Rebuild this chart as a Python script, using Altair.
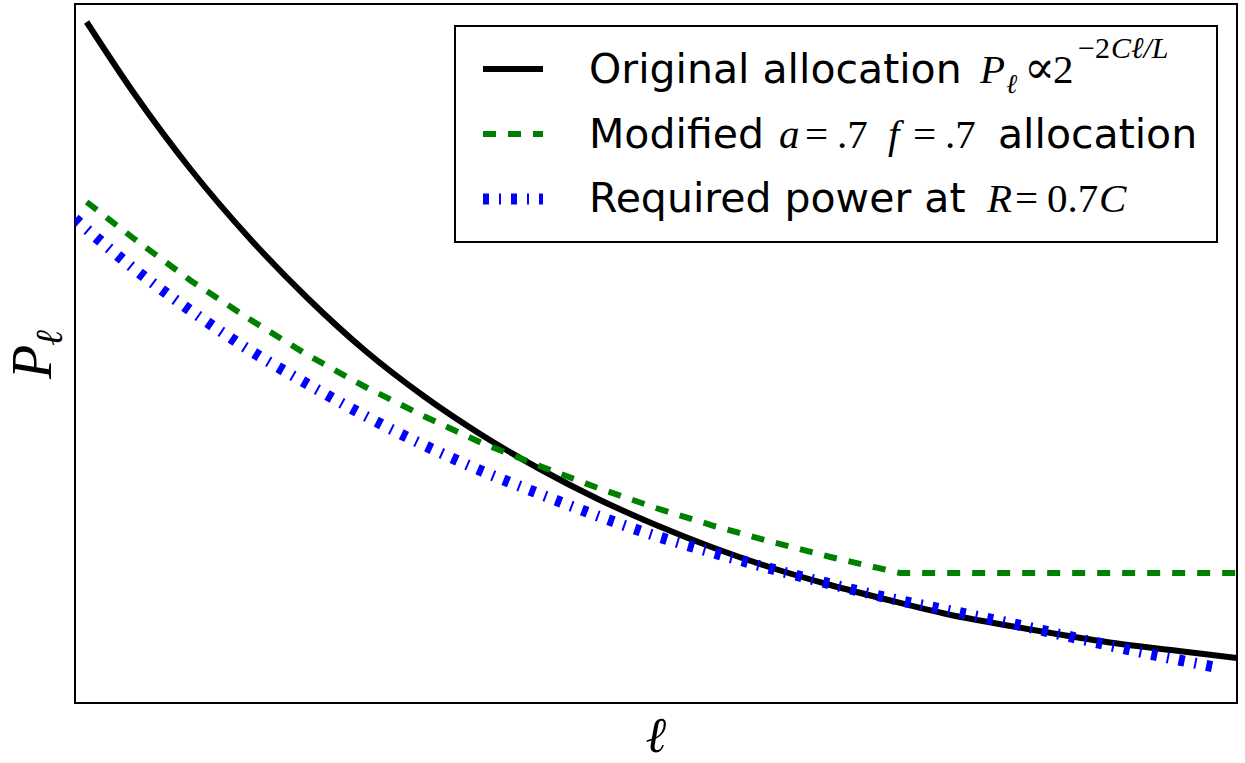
import altair as alt
import pandas as pd

# Layer index ell (arbitrary units, 0..100 across the plot)
ELL_ORIG = [1, 5, 10, 15, 20, 25, 30, 35, 40, 45, 50, 55, 60, 65, 70, 75, 80, 85, 90, 95, 100]
P_ORIG = [6.81, 6.11, 5.33, 4.65, 4.05, 3.52, 3.07, 2.68, 2.34, 2.04, 1.78,
          1.55, 1.35, 1.18, 1.03, 0.89, 0.78, 0.68, 0.59, 0.52, 0.45]

ELL_MOD = [1, 5, 10, 15, 20, 25, 30, 35, 40, 45, 50, 55, 60, 65, 71, 75, 80, 85, 90, 95, 100]
P_MOD = [5.01, 4.65, 4.22, 3.84, 3.48, 3.16, 2.87, 2.60, 2.37, 2.15, 1.95,
         1.77, 1.61, 1.46, 1.30, 1.30, 1.30, 1.30, 1.30, 1.30, 1.30]

ELL_REQ = [0, 5, 10, 15, 20, 25, 30, 35, 40, 45, 50, 55, 60, 65, 70, 75, 80, 85, 90, 95, 98.5]
P_REQ = [4.84, 4.35, 3.92, 3.53, 3.19, 2.87, 2.58, 2.32, 2.09, 1.87, 1.67,
         1.50, 1.34, 1.19, 1.05, 0.93, 0.81, 0.68, 0.55, 0.43, 0.35]

X_SCALE = alt.Scale(domain=[0, 100], nice=False, zero=False)
Y_SCALE = alt.Scale(domain=[0, 6.99], nice=False, zero=False)

LEFT, TOP = 75, 4
SANS = "DejaVu Sans"
SERIF = "Liberation Serif, DejaVu Serif, serif"

BLACK = "#000000"
GREEN = "#008000"
BLUE = "#0000ff"
DASH_GREEN = [13, 12]
DASH_BLUE = [6, 10, 2, 10]

one = pd.DataFrame({"k": [0]})


def curve(ell, p, color, width, dash=None, interp="monotone"):
    df = pd.DataFrame({"ell": ell, "P": p})
    kw = dict(color=color, strokeWidth=width, interpolate=interp, clip=True, strokeCap="butt")
    if dash:
        kw["strokeDash"] = dash
    return alt.Chart(df).mark_line(**kw).encode(
        x=alt.X("ell:Q", scale=X_SCALE, axis=None),
        y=alt.Y("P:Q", scale=Y_SCALE, axis=None),
    )


def label(s, x, y, size, font=SERIF, style="normal", angle=0, align="left"):
    return alt.Chart(one).mark_text(
        text=s, fontSize=size, font=font, fontStyle=style, angle=angle,
        align=align, baseline="alphabetic", color="black",
    ).encode(x=alt.value(x - LEFT), y=alt.value(y - TOP))


def sample(y, color, width, dash=None):
    kw = dict(color=color, strokeWidth=width, strokeCap="butt")
    if dash:
        kw["strokeDash"] = dash
    return alt.Chart(one).mark_rule(**kw).encode(
        x=alt.value(483 - LEFT), x2=alt.value(543 - LEFT), y=alt.value(y - TOP)
    )


lines = [
    curve(ELL_ORIG, P_ORIG, BLACK, 6),
    curve(ELL_MOD, P_MOD, GREEN, 6, DASH_GREEN, interp="linear"),
    curve(ELL_REQ, P_REQ, BLUE, 11, DASH_BLUE),
]

legend_box = alt.Chart(one).mark_rect(fill="white", stroke="black", strokeWidth=2).encode(
    x=alt.value(455 - LEFT), x2=alt.value(1217 - LEFT),
    y=alt.value(26 - TOP), y2=alt.value(242 - TOP),
)

legend = [
    legend_box,
    sample(69, BLACK, 6),
    sample(134, GREEN, 6, DASH_GREEN),
    sample(199, BLUE, 11, DASH_BLUE),
    # row 1: Original allocation P_l ∝ 2^(-2Cl/L)
    label("Original allocation", 589, 83, 41, font=SANS),
    label("P", 980, 83, 41, style="italic"),
    label("ℓ", 1006, 93, 27, style="italic"),
    label("∝", 1024, 83, 46),
    label("2", 1053, 83, 41),
    label("−2", 1078, 58, 30),
    label("Cℓ/L", 1111, 58, 30, style="italic"),
    # row 2: Modified a=.7 f=.7 allocation
    label("Modified", 589, 148, 41, font=SANS),
    label("a", 779, 148, 41, style="italic"),
    label("=", 805, 148, 41),
    label(".7", 837, 148, 41),
    label("f", 888, 148, 41, style="italic"),
    label("=", 913, 148, 41),
    label(".7", 945, 148, 41),
    label("allocation", 998, 148, 41, font=SANS),
    # row 3: Required power at R=0.7C
    label("Required power at", 589, 212, 41, font=SANS),
    label("R", 987, 212, 41, style="italic"),
    label("=", 1015, 212, 41),
    label("0.7", 1047, 212, 41),
    label("C", 1099, 212, 41, style="italic"),
]

titles = [
    label("P", 51, 362, 56, style="italic", angle=270, align="center"),
    label("ℓ", 62, 338, 38, style="italic", angle=270, align="center"),
    label("ℓ", 656, 752, 50, style="italic", align="center"),
]

chart = alt.layer(*lines, *legend, *titles).properties(
    width=1162,
    height=699,
    padding={"left": LEFT, "top": TOP, "right": 8, "bottom": 60},
    autosize=alt.AutoSizeParams(type="none"),
    background="white",
).configure_view(stroke="black", strokeWidth=2)

chart.save("out.html", embed_options={"renderer": "svg", "actions": False})
